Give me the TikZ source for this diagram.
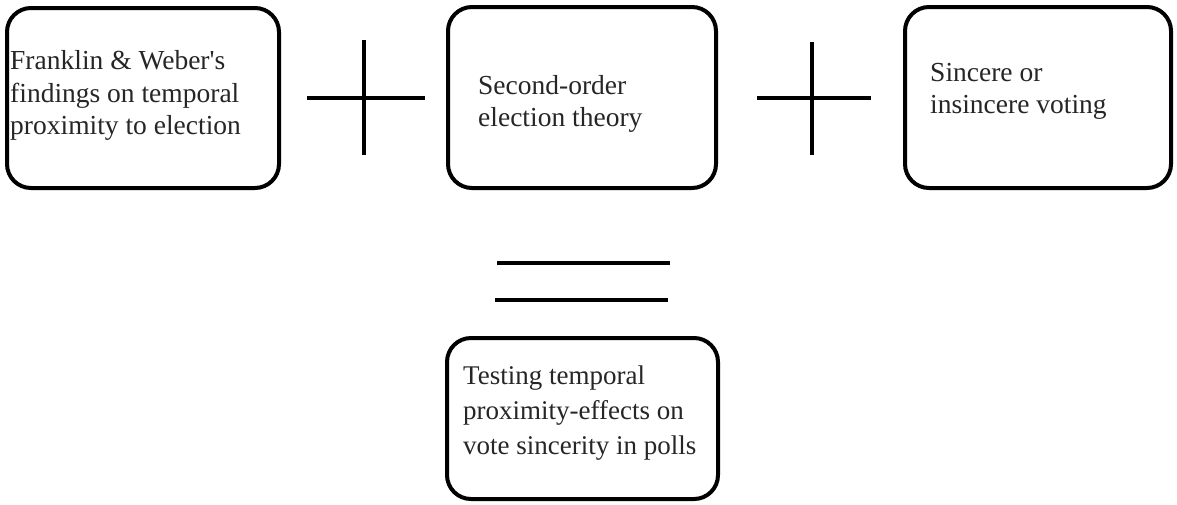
\documentclass[tikz,border=0pt]{standalone}
\usepackage{fontspec}
\setmainfont{Liberation Serif}
\begin{document}
\begin{tikzpicture}[x=1pt,y=-1pt,
  box/.style={draw=black,line width=4pt,rounded corners=24pt},
  txt/.style={anchor=west,align=left,inner sep=0pt,text=black!85,font=\fontsize{27.5}{32.5}\selectfont},
  sym/.style={line width=4.5pt,black}]
\useasboundingbox[fill=white] (0,0) rectangle (1177,504);
% boxes
\draw[box] (7,8) rectangle (279,188);
\draw[box] (448,7) rectangle (716,188);
\draw[box] (905,7) rectangle (1171,188);
\draw[box] (447,338) rectangle (718,499);
% texts
\node[txt] (t1) at (10,95.5) {Franklin \& Weber\textquotesingle s\\findings on temporal\\proximity to election};
\node[txt] (t2) at (478,104) {Second-order\\election theory};
\node[txt] (t3) at (930,91.5) {Sincere or\\insincere voting};
\node[txt,font=\fontsize{27}{35}\selectfont] (t4) at (463,413) {Testing temporal\\proximity-effects on\\vote sincerity in polls};
% plus signs
\coordinate (p1l) at (307,98); \coordinate (p1r) at (425,98);
\coordinate (p1t) at (364,40); \coordinate (p1b) at (364,155);
\draw[sym] (p1l) -- (p1r); \draw[sym] (p1t) -- (p1b);
\coordinate (p2l) at (757,98); \coordinate (p2r) at (871,98);
\coordinate (p2t) at (812,42); \coordinate (p2b) at (812,155);
\draw[sym] (p2l) -- (p2r); \draw[sym] (p2t) -- (p2b);
% equals sign
\coordinate (e1l) at (497,263); \coordinate (e1r) at (670,263);
\coordinate (e2l) at (495,300); \coordinate (e2r) at (668,300);
\draw[sym] (e1l) -- (e1r); \draw[sym] (e2l) -- (e2r);
\end{tikzpicture}
\end{document}
